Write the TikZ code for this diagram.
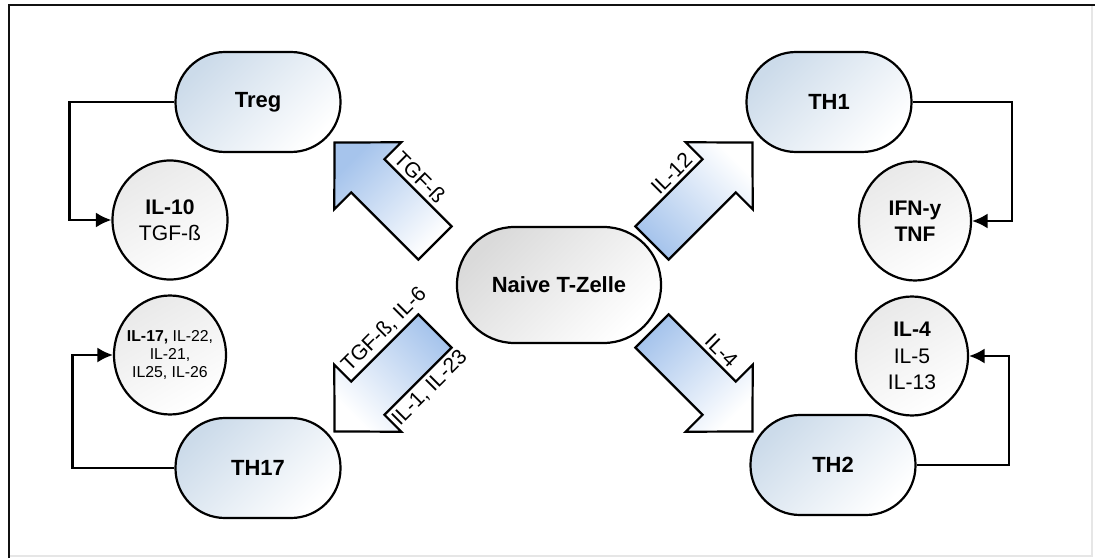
\documentclass[tikz,border=0pt]{standalone}
\usepackage{fontspec}
\setmainfont{Liberation Sans}
\usetikzlibrary{shapes.geometric,arrows.meta}
\definecolor{Frame}{HTML}{111111}
\definecolor{FaintFrame}{HTML}{E6E6E6}
\definecolor{CellBlue}{HTML}{CCDBEA}
\definecolor{CellGray}{HTML}{DADADA}
\definecolor{DotGray}{HTML}{E9E9E9}
\definecolor{ArrowBlue}{HTML}{A6C4EC}

\begin{document}
\begin{tikzpicture}[every node/.style={font=\fontsize{12}{15}\selectfont,text=black},
  cell/.style={rectangle,rounded corners=0.99cm,draw=black,line width=1.25pt,minimum width=3.3cm,minimum height=2cm,font=\fontsize{12.5}{15}\selectfont\bfseries,top color=CellBlue,bottom color=white,shading angle=45},
  naive/.style={cell,rounded corners=1.15cm,minimum width=4.08cm,minimum height=2.32cm,top color=CellGray,bottom color=white,shading angle=45},
  cyto/.style={ellipse,draw=black,line width=1.25pt,inner sep=0pt,minimum width=2.24cm,minimum height=2.38cm,align=center,top color=DotGray,bottom color=white,shading angle=30},
  feed/.style={draw=black,line width=1.25pt,-{Latex[length=3.1mm,width=3mm]}},
  barrow/.style={draw=black,line width=1.25pt,line join=miter},
  lbl/.style={font=\fontsize{12}{14}\selectfont,inner xsep=1pt,inner ysep=2.4pt}]
\useasboundingbox (0,0) rectangle (21.9,11.16);
\fill[white] (0,0) rectangle (21.9,11.16);
% frame
\draw[FaintFrame,line width=0.6pt] (21.84,11.06)--(21.84,0.04)--(0.18,0.04);
\draw[Frame,line width=1.7pt] (0.18,0)--(0.18,11.06)--(21.9,11.06);

% cells
\node[naive] (naive) at (11.18,5.46) {Naive T-Zelle};
\node[cell] (treg) at (5.16,9.12) {Treg};
\node[cell] (th1) at (16.58,9.12) {TH1};
\node[cell] (th17) at (5.16,1.8) {TH17};
\node[cell] (th2) at (16.66,1.86) {TH2};

% cytokines
\node[cyto,minimum width=2.3cm] (il10) at (3.4,6.76) {\textbf{IL-10}\\TGF-ß};
\node[cyto] (ifn) at (18.3,6.74) {\textbf{IFN-y}\\\textbf{TNF}};
\node[cyto,inner xsep=-0.16cm,font=\fontsize{9}{10.5}\selectfont] (il17) at (3.4,4.06) {\textbf{IL-17,} IL-22,\\IL-21,\\IL25, IL-26};
\node[cyto] (il4) at (18.24,4.04) {\textbf{IL-4}\\IL-5\\IL-13};

\draw[feed] (treg.west) -- ++(-2.1,0) |- (il10.west);
\draw[feed] (th1.east) -- ++(1.98,0) |- (ifn.east);
\draw[feed] (th17.west) -- ++(-2.04,0) |- (il17.west);
\draw[feed] (th2.east) -- ++(1.84,0) |- (il4.east);

% block arrows
\begin{scope}[shift={(8.7,6.3)},rotate=135]
\draw[barrow,top color=ArrowBlue,bottom color=white,shading angle=45] (0,-0.47)--(1.9,-0.47)--(1.9,-0.95)--(2.84,0)--(1.9,0.95)--(1.9,0.47)--(0,0.47)--cycle;
\node[lbl,rotate=-45,anchor=south] (tgfTreg) at (1.14,-0.47) {TGF-ß};
\end{scope}
\begin{scope}[shift={(13.04,6.3)},rotate=45]
\draw[barrow,top color=ArrowBlue,bottom color=white,shading angle=135] (0,-0.47)--(1.9,-0.47)--(1.9,-0.95)--(2.84,0)--(1.9,0.95)--(1.9,0.47)--(0,0.47)--cycle;
\node[lbl,rotate=45,anchor=south] (il12) at (1.26,0.47) {IL-12};
\end{scope}
\begin{scope}[shift={(8.7,4.54)},rotate=225]
\draw[barrow,top color=ArrowBlue,bottom color=white,shading angle=-45] (0,-0.47)--(1.9,-0.47)--(1.9,-0.95)--(2.84,0)--(1.9,0.95)--(1.9,0.47)--(0,0.47)--cycle;
\node[lbl,rotate=45,anchor=south] (tgfTh17) at (0.7,-0.47) {TGF-ß, IL-6};
\node[lbl,rotate=45,anchor=north] (il1) at (0.88,0.47) {IL-1, IL-23};
\end{scope}
\begin{scope}[shift={(13.04,4.54)},rotate=-45]
\draw[barrow,top color=ArrowBlue,bottom color=white,shading angle=45] (0,-0.47)--(1.9,-0.47)--(1.9,-0.95)--(2.84,0)--(1.9,0.95)--(1.9,0.47)--(0,0.47)--cycle;
\node[lbl,rotate=-45,anchor=south] (il4in) at (1.26,0.47) {IL-4};
\end{scope}
\end{tikzpicture}
\end{document}
